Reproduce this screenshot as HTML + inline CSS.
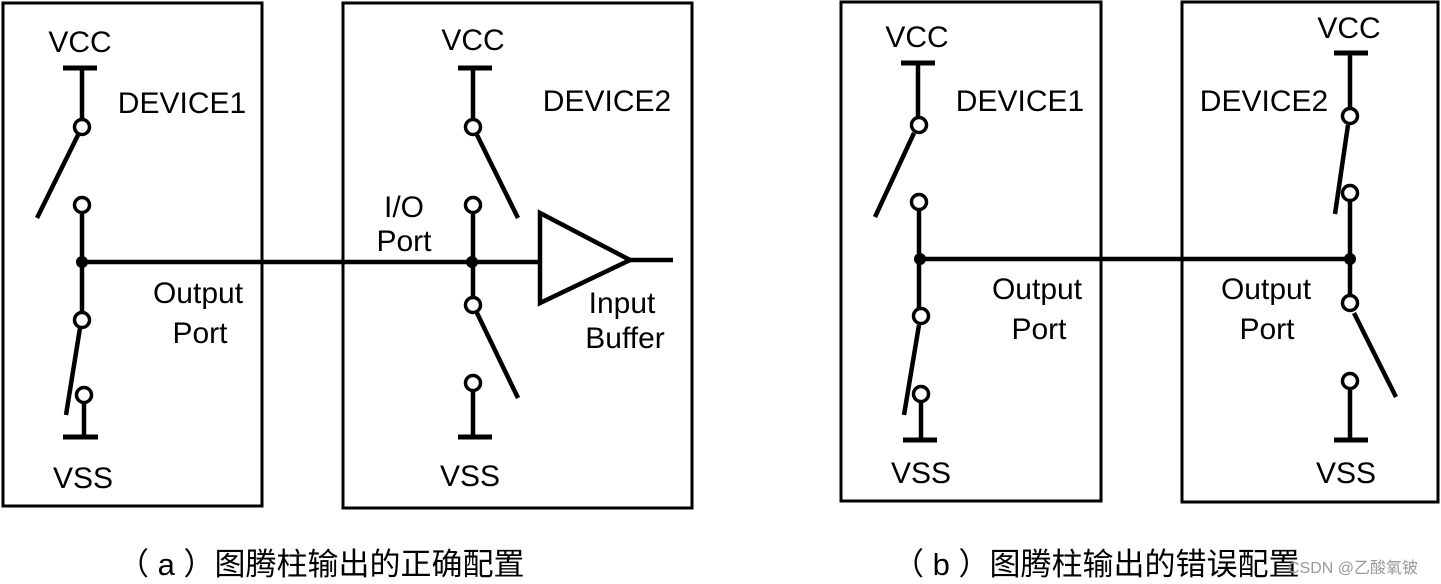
<!DOCTYPE html>
<html><head><meta charset="utf-8"><style>
html,body{margin:0;padding:0;background:#fff;}
svg{display:block;}
text{font-family:"Liberation Sans","Noto Sans CJK SC",sans-serif;fill:#000;}
</style></head><body>
<svg width="1441" height="584" viewBox="0 0 1441 584" xmlns="http://www.w3.org/2000/svg">
<g fill="none" stroke="#000" stroke-width="3">
<rect x="3" y="3" width="259" height="503"/>
<rect x="343" y="3" width="349" height="505"/>
<rect x="841" y="2" width="260" height="499"/>
<rect x="1182" y="2" width="256" height="500"/>
</g>
<g fill="none" stroke="#000" stroke-width="4.5" stroke-linecap="butt">
<line x1="82" y1="262" x2="540" y2="262"/>
<polygon points="540,213 540,303 630,260" stroke-linejoin="miter"/>
<line x1="630" y1="260" x2="673" y2="260"/>
<line x1="63" y1="68" x2="97" y2="68" stroke-width="5"/>
<line x1="82" y1="68" x2="82" y2="119"/>
<line x1="78" y1="135" x2="37" y2="218"/>
<line x1="82" y1="212" x2="82" y2="312"/>
<line x1="80" y1="328" x2="66" y2="415"/>
<line x1="84" y1="402" x2="84" y2="437"/>
<line x1="63" y1="437" x2="98" y2="437" stroke-width="5"/>
<line x1="458" y1="68" x2="492" y2="68" stroke-width="5"/>
<line x1="473" y1="68" x2="473" y2="119"/>
<line x1="477" y1="135" x2="518" y2="218"/>
<line x1="473" y1="212" x2="473" y2="298"/>
<line x1="477" y1="313" x2="518" y2="398"/>
<line x1="473" y1="390" x2="473" y2="437"/>
<line x1="458" y1="437" x2="492" y2="437" stroke-width="5"/>
<line x1="918" y1="259" x2="1350" y2="259"/>
<line x1="901" y1="63" x2="935" y2="63" stroke-width="5"/>
<line x1="918" y1="63" x2="918" y2="117"/>
<line x1="914" y1="133" x2="875" y2="217"/>
<line x1="919" y1="209" x2="919" y2="309"/>
<line x1="919" y1="325" x2="904" y2="415"/>
<line x1="921" y1="401" x2="921" y2="440"/>
<line x1="903" y1="440" x2="937" y2="440" stroke-width="5"/>
<line x1="1334" y1="53" x2="1368" y2="53" stroke-width="5"/>
<line x1="1350" y1="53" x2="1350" y2="109"/>
<line x1="1348" y1="125" x2="1335" y2="214"/>
<line x1="1350" y1="200" x2="1350" y2="296"/>
<line x1="1354" y1="313" x2="1396" y2="397"/>
<line x1="1350" y1="388" x2="1350" y2="440"/>
<line x1="1334" y1="440" x2="1368" y2="440" stroke-width="5"/>
</g>
<g fill="#fff" stroke="#000" stroke-width="3.5">
<circle cx="82" cy="127" r="7.5"/><circle cx="82" cy="205" r="7.5"/><circle cx="82" cy="320" r="7.5"/><circle cx="84" cy="395" r="7.5"/>
<circle cx="473" cy="127" r="7.5"/><circle cx="473" cy="205" r="7.5"/><circle cx="473" cy="305" r="7.5"/><circle cx="473" cy="383" r="7.5"/>
<circle cx="919" cy="125" r="7.5"/><circle cx="919" cy="202" r="7.5"/><circle cx="921" cy="316" r="7.5"/><circle cx="921" cy="394" r="7.5"/>
<circle cx="1350" cy="116" r="7.5"/><circle cx="1350" cy="193" r="7.5"/><circle cx="1350" cy="303" r="7.5"/><circle cx="1350" cy="381" r="7.5"/>
</g>
<g fill="#000">
<circle cx="82" cy="262" r="6"/><circle cx="472" cy="262" r="6"/>
<circle cx="920" cy="259" r="6"/><circle cx="1350" cy="259" r="6"/>
</g>
<g font-size="30" text-anchor="middle">
<text x="80" y="52">VCC</text>
<text x="182" y="113">DEVICE1</text>
<text x="198" y="303">Output</text>
<text x="200" y="343">Port</text>
<text x="83" y="488">VSS</text>
<text x="473" y="50">VCC</text>
<text x="607" y="111">DEVICE2</text>
<text x="404" y="217">I/O</text>
<text x="404" y="251">Port</text>
<text x="622" y="313">Input</text>
<text x="625" y="348">Buffer</text>
<text x="470" y="486">VSS</text>
<text x="917" y="47">VCC</text>
<text x="1020" y="111">DEVICE1</text>
<text x="1037" y="299">Output</text>
<text x="1039" y="339">Port</text>
<text x="921" y="483">VSS</text>
<text x="1349" y="38">VCC</text>
<text x="1264" y="111">DEVICE2</text>
<text x="1266" y="299">Output</text>
<text x="1267" y="339">Port</text>
<text x="1346" y="483">VSS</text>
</g>
<g font-size="31">
<text x="118" y="575">（ a ）图腾柱输出的正确配置</text>
<text x="893" y="575">（ b ）图腾柱输出的错误配置</text>
</g>
<text x="1288" y="573" font-size="16" style="fill:#999">CSDN @乙酸氧铍</text>
</svg>
</body></html>
